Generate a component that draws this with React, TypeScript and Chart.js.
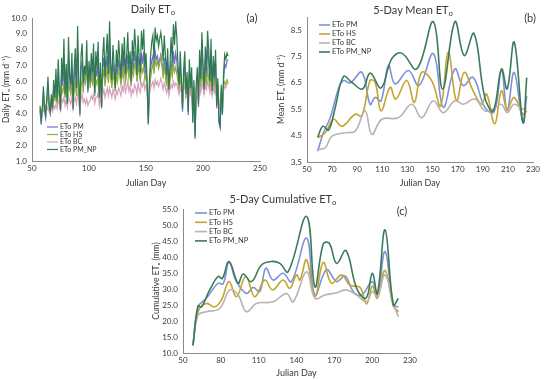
import React, { useEffect, useRef } from "react";
import { Chart, registerables } from "chart.js";
Chart.register(...registerables);

const FONT = "Lato, 'Open Sans', 'DejaVu Sans', sans-serif";
const TEXT = "#383838";
const AXIS = "#8a8a8a";

const seriesNames = ["ETo PM", "ETo HS", "ETo BC", "ETo PM_NP"];
const dailyColors = ["#6b6fd3", "#8fae3c", "#d6a2bb", "#2e7a50"];
const fiveDayColors = ["#7d92d8", "#c4a42c", "#b8b2b2", "#3c7a5c"];

// ---- Daily ETo (a) ----
const dailyFirstDay = 57;
const dailyPM = [
  4.2, 3.3, 4.0, 5.3, 4.1, 3.7, 4.7, 5.8, 4.4, 4.0,
  4.9, 4.2, 5.6, 4.8, 6.1, 4.6, 6.6, 5.2, 4.1, 6.7,
  5.7, 7.4, 5.0, 6.5, 4.5, 7.5, 6.1, 5.5, 6.9, 4.2,
  6.3, 7.1, 5.3, 7.9, 5.8, 3.9, 6.8, 7.3, 5.6, 6.5,
  6.0, 7.2, 5.3, 6.6, 5.8, 6.9, 6.2, 7.2, 5.1, 6.9,
  6.3, 7.3, 4.9, 6.6, 4.3, 6.9, 7.5, 5.9, 6.9, 7.6,
  6.1, 8.0, 6.7, 5.8, 7.2, 6.5, 5.4, 7.1, 6.4, 7.4,
  6.8, 5.9, 7.3, 6.5, 7.5, 6.1, 6.9, 7.7, 6.3, 7.0,
  5.8, 7.4, 6.7, 7.9, 7.2, 6.0, 7.6, 6.8, 6.2, 7.8,
  7.1, 7.9, 6.4, 7.0, 5.6, 3.4, 5.7, 6.8, 7.3, 7.6,
  6.7, 7.9, 7.4, 7.6, 7.1, 7.4, 7.7, 7.2, 6.6, 7.5,
  6.8, 5.9, 7.0, 5.2, 6.4, 7.3, 6.5, 7.9, 7.1, 7.8,
  7.3, 6.4, 5.5, 6.9, 5.8, 4.1, 6.2, 7.0, 5.0, 6.1,
  3.9, 6.7, 5.3, 6.3, 3.4, 5.7, 2.6, 5.4, 6.4, 4.4,
  7.3, 5.8, 8.6, 6.5, 5.2, 7.4, 6.2, 8.3, 7.2, 5.7,
  7.9, 5.2, 7.0, 5.9, 7.2, 4.3, 5.8, 3.4, 3.1, 5.4,
  3.9, 6.0, 7.1, 6.9, 7.3, 7.4,
];
const dailyHS = [
  4.5, 4.1, 4.3, 4.9, 4.6, 4.2, 4.8, 5.2, 4.5, 4.3,
  4.7, 4.4, 5.0, 4.8, 5.3, 4.6, 5.5, 5.1, 4.4, 5.6,
  5.3, 5.9, 5.0, 5.6, 4.7, 6.0, 5.5, 5.2, 5.8, 4.5,
  5.4, 5.9, 5.1, 6.2, 5.5, 3.8, 5.7, 6.1, 5.3, 6.6,
  6.2, 6.8, 5.9, 6.5, 5.6, 6.3, 5.9, 6.7, 5.2, 6.1,
  5.8, 6.5, 4.9, 6.0, 4.8, 6.2, 6.8, 5.7, 6.3, 6.9,
  5.9, 7.0, 6.2, 5.6, 6.5, 6.1, 5.4, 6.4, 6.0, 6.8,
  6.3, 5.8, 6.7, 6.2, 7.0, 6.0, 6.5, 7.1, 6.2, 6.6,
  5.7, 6.8, 6.4, 7.1, 6.9, 6.1, 7.0, 6.5, 6.0, 6.9,
  6.6, 7.0, 6.1, 6.4, 5.5, 4.2, 5.3, 6.2, 6.8, 7.1,
  6.5, 7.4, 7.0, 7.3, 6.8, 7.1, 7.6, 7.0, 6.2, 6.9,
  6.4, 5.7, 6.5, 5.3, 6.0, 6.8, 6.3, 7.1, 6.6, 6.9,
  6.5, 6.0, 5.4, 6.3, 5.6, 4.6, 5.9, 6.4, 5.1, 5.8,
  4.7, 6.1, 5.4, 6.0, 4.2, 5.5, 2.8, 5.2, 5.9, 4.8,
  6.2, 5.5, 6.6, 6.0, 5.3, 6.3, 5.8, 6.7, 6.2, 5.5,
  6.4, 5.2, 6.1, 5.6, 6.3, 4.9, 5.7, 4.6, 4.2, 5.3,
  4.8, 5.7, 6.0, 5.8, 6.1, 5.9,
];
const dailyBC = [
  4.0, 3.8, 3.9, 4.2, 4.1, 3.9, 4.2, 4.4, 4.1, 4.0,
  4.3, 4.1, 4.5, 4.3, 4.6, 4.3, 4.8, 4.6, 4.2, 4.9,
  4.7, 5.0, 4.5, 4.9, 4.4, 5.1, 4.8, 4.6, 5.0, 4.3,
  4.8, 5.0, 4.6, 5.2, 4.9, 4.0, 4.9, 5.2, 4.7, 4.9,
  4.6, 4.9, 4.5, 4.7, 4.8, 5.1, 4.9, 5.2, 4.6, 5.0,
  5.0, 5.3, 4.5, 5.1, 4.4, 5.2, 5.5, 5.0, 5.3, 5.6,
  5.1, 5.6, 5.3, 5.0, 5.5, 5.2, 4.9, 5.4, 5.2, 5.6,
  5.4, 5.1, 5.7, 5.4, 5.9, 5.3, 5.6, 6.0, 5.4, 5.7,
  5.1, 5.5, 5.3, 5.8, 5.6, 5.2, 5.9, 5.5, 5.3, 5.9,
  5.7, 6.0, 5.5, 5.8, 5.3, 4.6, 5.2, 5.6, 5.8, 6.0,
  5.6, 6.1, 5.8, 6.0, 5.7, 5.9, 6.2, 5.9, 5.5, 5.9,
  5.6, 5.3, 5.7, 5.1, 5.5, 5.8, 5.6, 6.0, 5.7, 5.9,
  5.8, 5.5, 5.2, 5.7, 5.3, 4.7, 5.5, 5.8, 5.0, 5.4,
  4.8, 5.6, 5.2, 5.5, 4.5, 5.3, 3.9, 5.1, 5.5, 4.9,
  5.7, 5.3, 5.9, 5.6, 5.2, 5.8, 5.5, 6.0, 5.7, 5.3,
  5.8, 5.1, 5.6, 5.3, 5.7, 4.9, 5.4, 4.6, 4.3, 5.1,
  4.7, 5.4, 5.7, 5.6, 5.9, 5.8,
];
const dailyPMNP = [
  4.4, 3.6, 4.2, 5.7, 4.3, 3.9, 5.0, 6.3, 4.6, 4.1,
  5.2, 4.3, 6.1, 5.0, 6.8, 4.8, 7.4, 5.5, 4.2, 7.5,
  6.0, 8.7, 5.2, 7.1, 4.6, 8.8, 6.5, 5.8, 7.8, 4.3,
  6.9, 8.1, 5.6, 9.5, 6.2, 4.0, 7.6, 8.4, 5.9, 7.0,
  6.4, 8.6, 5.5, 7.3, 6.0, 7.8, 6.6, 8.4, 5.3, 7.9,
  6.8, 8.5, 5.0, 7.2, 4.4, 7.6, 8.8, 6.3, 7.7, 9.0,
  6.5, 9.8, 7.2, 6.1, 8.3, 7.0, 5.6, 8.0, 6.9, 8.6,
  7.4, 6.2, 8.4, 7.0, 8.8, 6.5, 7.6, 9.1, 6.8, 7.9,
  6.0, 8.6, 7.3, 9.3, 8.1, 6.4, 8.9, 7.5, 6.6, 9.2,
  8.0, 9.3, 6.9, 7.8, 5.9, 3.3, 6.0, 7.6, 8.5, 8.9,
  7.4, 9.4, 8.6, 8.9, 8.2, 8.7, 9.1, 8.4, 7.3, 8.9,
  7.6, 6.4, 8.1, 5.5, 7.0, 8.8, 7.2, 9.6, 8.3, 9.8,
  8.8, 7.1, 5.8, 7.9, 6.2, 4.3, 6.8, 7.9, 5.2, 6.6,
  4.1, 7.4, 5.6, 6.9, 3.5, 6.1, 2.4, 5.8, 6.9, 4.6,
  8.0, 6.2, 9.1, 7.0, 5.5, 8.2, 6.7, 9.2, 8.0, 6.0,
  8.7, 5.4, 7.6, 6.3, 8.0, 4.5, 6.2, 3.5, 3.2, 5.8,
  4.0, 6.5, 7.7, 7.4, 7.8, 7.6,
];

// ---- 5-Day Mean ETo (b) ----
const meanDaysPM = [58.5, 63, 68.5, 75, 79, 84.4, 93.7, 100.3, 104.3, 109, 114.9, 120.2, 130.8, 139.2, 150.6, 158.5, 167.8, 174.4, 182.3, 191.6, 199, 204.9, 209.4, 215, 222, 225];
const meanPM = [3.91, 4.6, 5.18, 6.27, 6.59, 6.5, 6.9, 5.69, 5.95, 5.82, 7.16, 6.46, 6.97, 6.4, 7.61, 5.57, 7.03, 6.4, 6.71, 5.57, 5.4, 6.97, 5.44, 6.9, 5.0, 6.0];
const meanDaysHS = [58.5, 64.6, 71.2, 77.8, 88.4, 93.7, 100.3, 104.3, 109, 116.2, 120.7, 129.4, 135.5, 141.3, 149.3, 156.4, 162.5, 169.1, 175.2, 182.3, 189, 193, 199.5, 204.9, 209.4, 215, 222, 225];
const meanHS = [4.42, 4.61, 5.12, 4.86, 5.31, 5.25, 6.59, 6.52, 5.44, 6.33, 5.89, 6.59, 5.76, 6.9, 6.59, 5.63, 7.67, 5.82, 6.9, 6.2, 5.69, 6.08, 4.95, 6.2, 5.5, 5.95, 5.31, 5.44];
const meanDaysBC = [58.5, 64.6, 69.9, 80.4, 88.4, 96.3, 101.6, 109.6, 122.8, 133.4, 141.3, 150.6, 158.5, 167.8, 174.4, 183.7, 191.6, 198.3, 204.9, 209.4, 215, 222, 225];
const meanBC = [3.97, 4.04, 4.48, 4.61, 4.67, 5.44, 4.55, 5.12, 5.18, 5.69, 5.18, 5.82, 5.37, 5.82, 5.69, 5.89, 5.44, 5.5, 5.69, 5.37, 5.69, 5.5, 5.57];
const meanDaysPMNP = [58.5, 62.7, 67.2, 72.5, 79, 85.7, 94.2, 100.3, 109, 117.5, 125.5, 137.4, 150.6, 158, 167.8, 175.2, 183, 191.6, 198.3, 204.9, 209.4, 215, 222, 225];
const meanPMNP = [4.44, 4.86, 4.71, 5.57, 6.74, 6.52, 6.27, 6.87, 6.31, 7.42, 7.63, 7.03, 8.82, 6.27, 8.82, 7.54, 8.37, 5.95, 5.44, 7.03, 6.27, 8.05, 5.0, 6.7];
const meanYTicks = [3.5, 4.5, 5.5, 6.5, 7.5, 8.5];

// ---- 5-Day Cumulative ETo (c) ----
const cumDaysPM = [57.9, 61.9, 68.5, 77.8, 81.8, 86.5, 92.4, 100.3, 105.6, 110.9, 115.7, 121.5, 129.4, 136, 148, 154.6, 163.8, 171.8, 178.4, 185, 191.6, 200.1, 204.1, 210.2, 216.8, 220.8];
const cumPM = [12.4, 24.4, 27.1, 31.8, 31.6, 38.3, 32.3, 28.6, 30.5, 29.2, 36.5, 32.8, 34.9, 32.3, 45.9, 28.1, 36.0, 32.3, 34.1, 29.2, 28.1, 32.3, 27.8, 41.7, 25.0, 24.4];
const cumDaysHS = [57.9, 61.9, 68.5, 75.1, 80.4, 86.5, 92.4, 99.8, 106.9, 114.9, 121, 129.4, 134.7, 140, 142.7, 148, 154.6, 161.2, 167.8, 175.8, 182.4, 190.3, 195.6, 200.1, 204.1, 210.2, 216.8, 220.8];
const cumHS = [12.4, 22.9, 25.5, 24.4, 26.5, 32.3, 27.6, 33.9, 27.6, 32.8, 29.7, 32.8, 30.2, 34.4, 32.8, 39.1, 27.6, 38.3, 31.8, 34.4, 31.2, 30.5, 25.3, 30.9, 27.1, 35.8, 24.7, 22.9];
const cumDaysBC = [57.9, 61.9, 68.5, 79.1, 87.1, 93.7, 100.3, 108.2, 121.5, 132.1, 137.4, 148, 154.6, 162.5, 171.8, 179.7, 187.7, 195.6, 200.1, 204.1, 210.2, 216.8, 220.8];
const cumBC = [12.4, 21.8, 22.9, 23.9, 29.7, 28.1, 22.9, 25.5, 26.0, 28.6, 26.0, 35.4, 27.1, 28.1, 28.8, 29.7, 28.1, 26.0, 29.2, 27.6, 34.4, 25.5, 21.3];
const cumDaysPMNP = [57.9, 61.9, 64.6, 71.2, 77.8, 81.2, 86.5, 93.7, 97.7, 104.3, 112.2, 120.2, 126.8, 133.4, 148, 154.6, 161.2, 166, 171.8, 179.2, 187.7, 195.1, 200.1, 204.1, 210.2, 216.8, 220.8];
const cumPMNP = [12.4, 24.7, 24.4, 29.7, 33.9, 33.3, 38.6, 31.8, 34.7, 32.3, 37.5, 38.6, 38.0, 35.4, 52.7, 30.7, 44.1, 44.3, 38.0, 42.0, 30.2, 27.1, 34.9, 28.6, 48.5, 25.0, 27.1];

const toXY = (xs: number[], ys: number[]) => ys.map((y, i) => ({ x: xs[i], y }));
const dailyXY = (ys: number[]) => ys.map((y, i) => ({ x: dailyFirstDay + i, y }));

const insideLegend = {
  id: "insideLegend",
  afterDatasetsDraw(chart: any, _args: any, opts: any) {
    if (!opts || !opts.labels) return;
    const { ctx } = chart;
    ctx.save();
    ctx.font = `${opts.size}px ${FONT}`;
    ctx.textBaseline = "middle";
    ctx.textAlign = "left";
    (opts.labels as string[]).forEach((label, i) => {
      const y = opts.y + i * opts.row;
      ctx.strokeStyle = opts.colors[i];
      ctx.lineWidth = opts.lineWidth;
      ctx.beginPath();
      ctx.moveTo(opts.x, y);
      ctx.lineTo(opts.x + opts.len, y);
      ctx.stroke();
      ctx.fillStyle = TEXT;
      ctx.fillText(label, opts.x + opts.len + 2, y);
    });
    ctx.restore();
  },
};

function makeDatasets(pairs: { x: number; y: number }[][], colors: string[], width: number, tension: number) {
  return pairs.map((data, i) => ({
    label: seriesNames[i],
    data,
    borderColor: colors[i],
    backgroundColor: colors[i],
    borderWidth: width,
    pointRadius: 0,
    tension,
    fill: false,
    order: 3 - i,
  }));
}

function makeOptions(p: any) {
  return {
    responsive: false,
    animation: false,
    devicePixelRatio: 1,
    layout: { padding: { top: p.padTop, right: p.padRight, left: 0, bottom: 0 } },
    plugins: {
      legend: { display: false },
      tooltip: { enabled: false },
      title: { display: false },
      insideLegend: p.legend,
    },
    scales: {
      x: {
        type: "linear",
        min: p.xMin,
        max: p.xMax,
        ticks: { stepSize: p.xStep, color: TEXT, font: { family: FONT, size: 8 }, padding: 3, maxRotation: 0, autoSkip: false },
        grid: { display: false, drawTicks: false },
        border: { display: true, color: AXIS, width: 1 },
        title: { display: true, text: "Julian Day", color: TEXT, font: { family: FONT, size: 9 }, padding: { top: 0, bottom: 2 } },
        afterFit: (s: any) => { s.height = p.xHeight; },
      },
      y: {
        type: "linear",
        min: p.yMin,
        max: p.yMax,
        ticks: {
          stepSize: p.yStep,
          color: TEXT,
          font: { family: FONT, size: 8 },
          padding: 5,
          callback: (v: any) => Number(v).toFixed(1),
        },
        afterBuildTicks: p.yTicks ? (s: any) => { s.ticks = p.yTicks.map((v: number) => ({ value: v })); } : undefined,
        grid: { display: false, drawTicks: false },
        border: { display: true, color: AXIS, width: 1 },
        title: { display: true, text: p.yTitle, color: TEXT, font: { family: FONT, size: 8.5 }, padding: { top: 1, bottom: 1 } },
        afterFit: (s: any) => { s.width = p.yWidth; },
      },
    },
  };
}

function ChartBox({ left, top, width, height, config }: any) {
  const ref = useRef<HTMLCanvasElement | null>(null);
  useEffect(() => {
    if (!ref.current) return;
    const chart = new Chart(ref.current, { ...config, plugins: [insideLegend] });
    return () => chart.destroy();
  }, []);
  return (
    <div style={{ position: "absolute", left, top, width, height }}>
      <canvas ref={ref} width={width} height={height} style={{ width, height, display: "block" }} />
    </div>
  );
}

function Label({ x, y, size, children }: any) {
  return (
    <div
      style={{
        position: "absolute",
        left: x,
        top: y,
        transform: "translate(-50%, -50%)",
        fontFamily: FONT,
        fontSize: size,
        color: TEXT,
        whiteSpace: "nowrap",
        lineHeight: 1,
      }}
    >
      {children}
    </div>
  );
}

const sub = (t: string) => <sub style={{ fontSize: "0.7em", verticalAlign: "-0.25em" }}>{t}</sub>;

export default function App() {
  const configA = {
    type: "line",
    data: {
      datasets: makeDatasets([dailyXY(dailyPM), dailyXY(dailyHS), dailyXY(dailyBC), dailyXY(dailyPMNP)], dailyColors, 1.2, 0),
    },
    options: makeOptions({
      padTop: 18, padRight: 9, xMin: 50, xMax: 250, xStep: 50, yMin: 1, yMax: 10, yStep: 1,
      yTitle: "Daily ETₒ (mm d⁻¹)", yWidth: 32, xHeight: 29,
      legend: { labels: seriesNames, colors: dailyColors, x: 47, y: 127, row: 7.5, len: 11, size: 7, lineWidth: 1.2 },
    }),
  };
  const configB = {
    type: "line",
    data: {
      datasets: makeDatasets(
        [toXY(meanDaysPM, meanPM), toXY(meanDaysHS, meanHS), toXY(meanDaysBC, meanBC), toXY(meanDaysPMNP, meanPMNP)],
        fiveDayColors, 1.6, 0.4),
    },
    options: makeOptions({
      padTop: 17, padRight: 10, xMin: 50, xMax: 230, xStep: 20, yMin: 3.5, yMax: 9, yStep: 1, yTicks: meanYTicks,
      yTitle: "Mean ETₒ (mm d⁻¹)", yWidth: 32, xHeight: 28,
      legend: { labels: seriesNames, colors: fiveDayColors, x: 44, y: 25, row: 9, len: 11, size: 7.5, lineWidth: 1.6 },
    }),
  };
  const configC = {
    type: "line",
    data: {
      datasets: makeDatasets(
        [toXY(cumDaysPM, cumPM), toXY(cumDaysHS, cumHS), toXY(cumDaysBC, cumBC), toXY(cumDaysPMNP, cumPMNP)],
        fiveDayColors, 1.6, 0.4),
    },
    options: makeOptions({
      padTop: 24, padRight: 10, xMin: 50, xMax: 230, xStep: 30, yMin: 10, yMax: 55, yStep: 5,
      yTitle: "Cumulative ETₒ (mm)", yWidth: 33, xHeight: 27,
      legend: { labels: seriesNames, colors: fiveDayColors, x: 45, y: 28, row: 9.3, len: 12, size: 7.5, lineWidth: 1.6 },
    }),
  };

  return (
    <div style={{ position: "fixed", left: 0, top: 0, width: 550, height: 380, background: "#ffffff", overflow: "hidden" }}>
      <ChartBox left={0} top={0} width={270} height={190} config={configA} />
      <ChartBox left={275} top={0} width={268} height={190} config={configB} />
      <ChartBox left={150} top={185} width={270} height={195} config={configC} />
      <Label x={153} y={10} size={11}>Daily ET{sub("o")}</Label>
      <Label x={252} y={17} size={11}>(a)</Label>
      <Label x={413} y={11} size={11}>5-Day Mean ET{sub("o")}</Label>
      <Label x={530} y={17} size={11}>(b)</Label>
      <Label x={283} y={200} size={11}>5-Day Cumulative ET{sub("o")}</Label>
      <Label x={402} y={210} size={11}>(c)</Label>
    </div>
  );
}
